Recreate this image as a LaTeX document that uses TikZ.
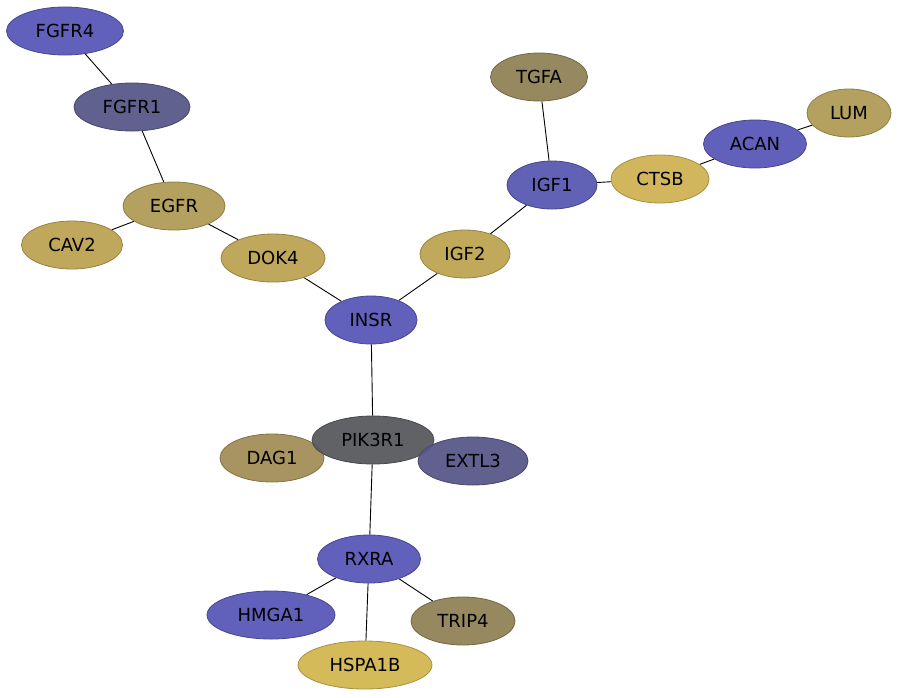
\documentclass[tikz,border=0pt]{standalone}
\usepackage{fontspec}
\setmainfont{DejaVu Sans}
\usetikzlibrary{shapes.geometric,backgrounds}
\definecolor{cblue}{RGB}{88,88,184}
\definecolor{cslate}{RGB}{88,88,138}
\definecolor{cgray}{RGB}{88,90,94}
\definecolor{ctan}{RGB}{176,156,86}
\definecolor{cochre}{RGB}{188,162,82}
\definecolor{cgold}{RGB}{208,178,84}
\definecolor{colive}{RGB}{144,130,86}
\definecolor{cbrown}{RGB}{162,142,88}
\tikzset{
  gene/.style={ellipse, fill=#1, draw=#1!80!black, line width=0.8pt, fill opacity=0.95, text opacity=1,
    inner sep=0pt, minimum height=48pt, font=\fontsize{18}{21}\selectfont},
  link/.style={black, line width=0.9pt}
}
\begin{document}
\begin{tikzpicture}[x=1pt,y=-1pt]
  \useasboundingbox (0,0) rectangle (899,697);
  % Genes
  \node[gene=cblue, minimum width=117pt] (fgfr4) at (65,31) {FGFR4};
  \node[gene=cslate, minimum width=116pt] (fgfr1) at (132,107) {FGFR1};
  \node[gene=ctan, minimum width=102pt] (egfr) at (174,206) {EGFR};
  \node[gene=cochre, minimum width=101pt] (cav2) at (72,245) {CAV2};
  \node[gene=cochre, minimum width=104pt] (dok4) at (273,258) {DOK4};
  \node[gene=cblue, minimum width=92pt] (insr) at (371,320) {INSR};
  \node[gene=cochre!90!cgold, minimum width=90pt] (igf2) at (465,254) {IGF2};
  \node[gene=cblue!85!cslate, minimum width=90pt] (igf1) at (552,185) {IGF1};
  \node[gene=colive, minimum width=97pt] (tgfa) at (539,77) {TGFA};
  \node[gene=cgold, minimum width=98pt] (ctsb) at (660,179) {CTSB};
  \node[gene=cblue, minimum width=103pt] (acan) at (755,144) {ACAN};
  \node[gene=ctan, minimum width=84pt] (lum) at (849,113) {LUM};
  \node[gene=cbrown, minimum width=104pt] (dag1) at (272,458) {DAG1};
  \node[gene=cgray, minimum width=122pt] (pik3r1) at (373,440) {PIK3R1};
  \node[gene=cslate, minimum width=110pt] (extl3) at (473,461) {EXTL3};
  \node[gene=cblue, minimum width=103pt] (rxra) at (369,559) {RXRA};
  \node[gene=cblue, minimum width=128pt] (hmga1) at (271,615) {HMGA1};
  \node[gene=colive, minimum width=104pt] (trip4) at (463,621) {TRIP4};
  \node[gene=cgold!95!yellow, minimum width=134pt] (hspa1b) at (365,665) {HSPA1B};
  % Links
  \begin{scope}[on background layer]
    \draw[link] (fgfr4) -- (fgfr1);
    \draw[link] (fgfr1) -- (egfr);
    \draw[link] (egfr) -- (cav2);
    \draw[link] (egfr) -- (dok4);
    \draw[link] (dok4) -- (insr);
    \draw[link] (insr) -- (igf2);
    \draw[link] (igf2) -- (igf1);
    \draw[link] (igf1) -- (tgfa);
    \draw[link] (igf1) -- (ctsb);
    \draw[link] (ctsb) -- (acan);
    \draw[link] (acan) -- (lum);
    \draw[link] (insr) -- (pik3r1);
    \draw[link] (pik3r1) -- (rxra);
    \draw[link] (rxra) -- (hmga1);
    \draw[link] (rxra) -- (trip4);
    \draw[link] (rxra) -- (hspa1b);
  \end{scope}
\end{tikzpicture}
\end{document}
